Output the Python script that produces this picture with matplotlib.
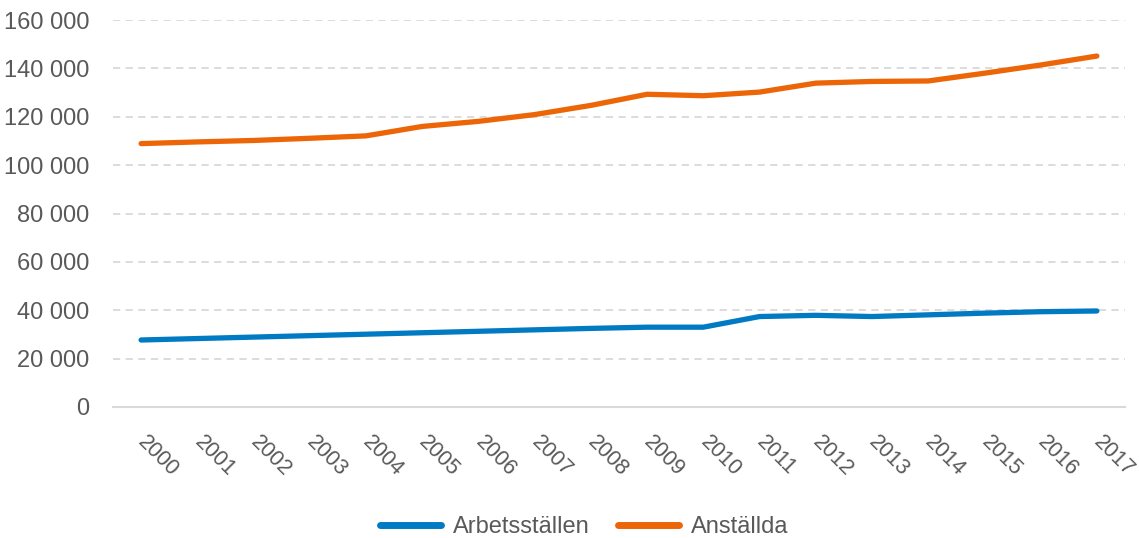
import numpy as np
import matplotlib
matplotlib.use('Agg')
import matplotlib.pyplot as plt
from matplotlib.ticker import FuncFormatter

plt.rcParams['font.family'] = ['Liberation Sans', 'DejaVu Sans']

years = [str(y) for y in range(2000, 2018)]
arbetsstallen = [27700, 28300, 28900, 29500, 30100, 30700, 31300, 31900, 32500, 33000,
                 33000, 37400, 37900, 37400, 38100, 38800, 39400, 39700]
anstallda = [108900, 109600, 110200, 111100, 112100, 116000, 118100, 120900, 124700, 129300,
             128700, 130200, 133900, 134600, 134800, 138000, 141400, 145100]

blue = '#007AC3'
orange = '#EC6608'
grey_txt = '#595959'

fig = plt.figure(figsize=(11.39, 5.38), dpi=100)
ax = fig.add_axes([0.0992, 0.2435, 0.8885, 0.7193])

x = np.arange(len(years))
ax.plot(x, arbetsstallen, color=blue, lw=3.8, solid_capstyle='round', label='Arbetsställen')
ax.plot(x, anstallda, color=orange, lw=3.8, solid_capstyle='round', label='Anställda')

ax.set_xlim(-0.5, len(years) - 0.5)
ax.set_ylim(0, 160000)
ax.set_yticks(np.arange(0, 160001, 20000))
ax.yaxis.set_major_formatter(FuncFormatter(lambda v, p: f'{int(v):,}'.replace(',', ' ')))
ax.set_xticks(x)
ax.set_xticklabels(years, rotation=-45, ha='left', va='center', rotation_mode='anchor')

for spine in ['top', 'right', 'left']:
    ax.spines[spine].set_visible(False)
ax.spines['bottom'].set_color('#d9d9d9')
ax.spines['bottom'].set_linewidth(1.5)

ax.grid(axis='y', color='#d9d9d9', lw=1.3, linestyle=(0, (4, 3)))
ax.set_axisbelow(True)
ax.tick_params(axis='both', length=0, colors=grey_txt)
ax.tick_params(axis='y', pad=17, labelsize=17)
ax.tick_params(axis='x', pad=23, labelsize=15.5)

leg = fig.legend(loc='lower center', bbox_to_anchor=(0.513, -0.04), ncol=2, frameon=False,
                 fontsize=17, handlelength=2.6, handletextpad=0.5, columnspacing=1.2,
                 labelcolor=grey_txt)
for h in leg.get_lines():
    h.set_linewidth(5)
    h.set_solid_capstyle('round')

fig.savefig('out.png', dpi=100)
